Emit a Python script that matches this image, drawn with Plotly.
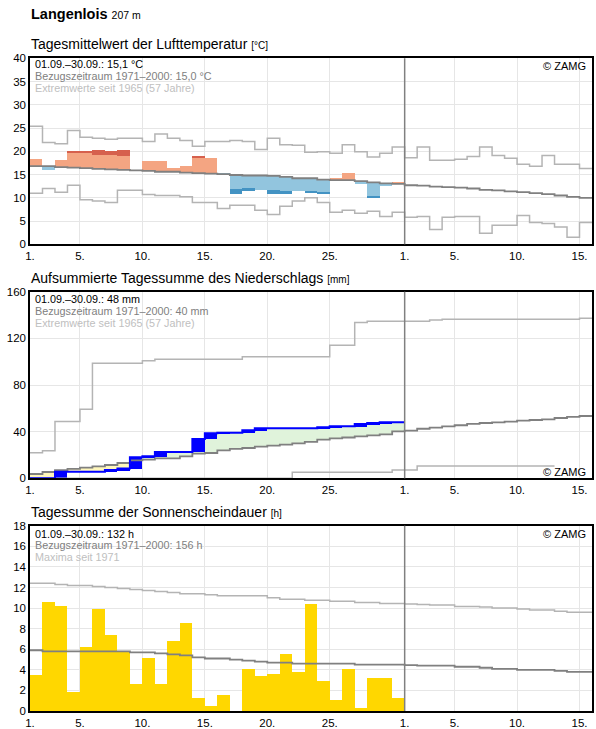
import plotly.graph_objects as go

W, H = 596, 729
FONT = "Liberation Sans, Arial, sans-serif"

# ---------------- data ----------------
# day index: 1..30 = September, 31..45 = 1..15 October
tick_vals = [1, 5, 10, 15, 20, 25, 31, 35, 40, 45]
tick_text = ["1.", "5.", "10.", "15.", "20.", "25.", "1.", "5.", "10.", "15."]

temp_normal = [16.8, 16.8, 16.6, 16.5, 16.4, 16.2, 16.1, 16.0, 15.9, 15.8, 15.6, 15.6, 15.4, 15.3, 15.2,
               15.1, 14.9, 14.8, 14.8, 14.7, 14.5, 14.2, 14.2, 13.9, 13.8, 13.8, 13.6, 13.3, 13.1, 13.0,
               12.7, 12.6, 12.4, 12.3, 12.2, 12.0, 11.7, 11.6, 11.4, 11.2, 11.0, 10.8, 10.5, 10.2, 10.0]
temp_max = [25.4, 21.9, 21.6, 24.5, 23.0, 22.8, 22.6, 22.8, 22.8, 22.1, 23.7, 22.8, 22.3, 21.1, 22.1,
            22.1, 22.3, 22.1, 20.4, 22.8, 21.4, 21.3, 19.8, 19.9, 19.6, 21.4, 19.9, 18.8, 19.6, 20.9,
            18.6, 20.9, 18.1, 18.1, 18.3, 18.9, 20.9, 19.1, 18.5, 17.2, 16.8, 19.1, 17.2, 17.2, 16.3]
temp_min = [11.0, 12.0, 11.2, 12.7, 9.6, 9.3, 9.0, 11.6, 11.6, 10.7, 10.5, 10.5, 10.2, 9.0, 9.0,
            7.7, 8.4, 8.4, 7.3, 6.4, 8.2, 9.3, 10.0, 9.0, 6.9, 7.3, 6.7, 7.1, 6.0, 6.9,
            5.8, 6.0, 3.2, 5.8, 6.0, 6.0, 2.4, 4.1, 4.1, 6.2, 4.7, 4.5, 3.7, 1.5, 4.7]
temp_actual = [18.3, 16.0, 18.1, 20.1, 20.1, 20.3, 20.1, 20.3, 15.9, 17.8, 17.8, 16.4, 16.8, 19.0, 18.6,
               14.8, 10.8, 11.5, 11.7, 10.7, 10.7, 11.5, 10.9, 10.9, 14.0, 15.3, 12.8, 10.0, 12.4, 13.2]
temp_upper = [19.9, 19.9, 19.7, 19.5, 19.5, 19.2, 19.2, 19.0, 19.0, 18.9, 18.7, 18.7, 18.6, 18.6, 18.6,
              18.2, 18.0, 17.9, 17.9, 17.8, 17.6, 17.3, 17.3, 17.0, 16.9, 16.9, 16.7, 16.4, 16.2, 16.1]
temp_lower = [13.8, 13.8, 13.6, 13.5, 13.4, 13.2, 13.1, 13.0, 12.9, 12.8, 12.6, 12.6, 12.4, 12.3, 12.2,
              12.1, 11.9, 11.9, 11.7, 11.7, 11.5, 11.4, 11.2, 11.1, 10.8, 10.8, 10.6, 10.2, 10.1, 10.0]

prec_normal = [3.7, 5.4, 6.9, 8.0, 9.1, 10.3, 11.4, 13.1, 15.4, 16.0, 17.1, 17.1, 18.8, 21.1, 21.7,
               24.0, 25.2, 26.0, 27.2, 28.0, 28.9, 30.0, 31.2, 33.1, 34.2, 35.0, 35.9, 36.8, 37.6, 40.3,
               40.9, 42.5, 43.4, 44.6, 45.5, 46.6, 47.4, 48.0, 48.6, 49.4, 50.0, 50.6, 51.7, 52.6, 53.4]
prec_max = [22.0, 23.7, 48.6, 48.6, 59.2, 98.6, 98.6, 98.6, 98.6, 100.9, 102.1, 102.1, 102.1, 102.1, 102.1,
            102.1, 102.1, 104.3, 104.3, 104.3, 104.3, 104.3, 104.3, 104.3, 114.1, 114.1, 133.5, 134.6, 134.6, 134.6,
            134.6, 134.6, 135.8, 136.3, 136.3, 136.3, 136.3, 136.3, 136.3, 136.3, 136.3, 136.3, 136.3, 136.3, 137.2]
# minimum curve is visible up to 12 October
prec_min = [0, 0, 0, 0, 0, 0, 0, 0, 0, 0, 0, 0, 0, 0, 0,
            0, 0, 0, 0, 0, 0, 5.1, 5.1, 5.1, 5.1, 5.1, 5.1, 5.1, 5.1, 7.1,
            7.1, 10.5, 10.5, 10.5, 10.5, 10.5, 10.5, 10.5, 10.5, 10.5, 10.5, 10.5]
prec_actual = [0, 0, 5.7, 5.7, 5.7, 5.7, 7.1, 8.5, 18.0, 18.9, 22.6, 22.6, 22.6, 33.7, 38.6,
               39.1, 39.1, 41.2, 42.9, 42.9, 42.9, 42.9, 42.9, 43.7, 44.6, 44.6, 46.6, 47.4, 48.0, 48.0]

sun_actual = [3.5, 10.6, 10.2, 1.9, 6.2, 9.9, 7.4, 5.8, 2.7, 5.2, 2.7, 6.8, 8.6, 1.3, 0.5,
              1.6, 0.0, 4.1, 3.4, 3.6, 5.6, 3.8, 10.4, 2.9, 1.1, 4.1, 0.3, 3.2, 3.2, 1.3]
sun_normal = [5.9, 5.8, 5.8, 5.8, 5.8, 5.8, 5.8, 5.8, 5.7, 5.7, 5.6, 5.5, 5.4, 5.2, 5.1,
              5.1, 5.0, 4.9, 4.8, 4.7, 4.7, 4.6, 4.6, 4.6, 4.6, 4.6, 4.5, 4.5, 4.5, 4.5,
              4.45, 4.4, 4.4, 4.4, 4.3, 4.3, 4.2, 4.1, 4.1, 4.0, 4.0, 4.0, 3.9, 3.8, 3.8]
sun_max = [12.4, 12.4, 12.3, 12.2, 12.2, 12.1, 12.0, 11.9, 11.8, 11.7, 11.6, 11.5, 11.4, 11.4, 11.3,
           11.2, 11.2, 11.2, 11.2, 11.0, 10.85, 10.85, 10.75, 10.75, 10.65, 10.65, 10.55, 10.55, 10.45, 10.45,
           10.4, 10.35, 10.3, 10.3, 10.15, 10.15, 10.1, 10.0, 10.0, 9.9, 9.8, 9.8, 9.7, 9.6, 9.6]

# ---------------- styles ----------------
C_NORMAL = "#808080"
C_EXT = "#b4b4b4"
C_GRID = "#e6e6e6"
C_WARM, C_WARM_D = "#f4a582", "#d6604d"
C_COLD, C_COLD_D = "#92c5de", "#4393c3"
C_BLUE = "#0000ff"
C_WET, C_DRY = "#e0f3db", "#fff7bc"
C_SUN = "#ffd700"

X0, X1 = 30, 592
PANELS = [(58.3, 244.3), (291.7, 478.3), (525.7, 711.0)]


def py(p):
    return 1 - p / H


def px(p):
    return p / W


fig = go.Figure()


def step_line(vals, axis, color, width):
    n = len(vals)
    xs = list(range(1, n + 2))
    ys = list(vals) + [vals[-1]]
    fig.add_trace(go.Scatter(x=xs, y=ys, mode="lines", line=dict(color=color, width=width, shape="hv"),
                             xaxis="x" + axis, yaxis="y" + axis, hoverinfo="skip"))


def bars(xs, heights, bases, color, axis):
    if not xs:
        return
    fig.add_trace(go.Bar(x=[d + 0.5 for d in xs], y=heights, base=bases, width=1,
                         marker=dict(color=color, line=dict(width=0)),
                         xaxis="x" + axis, yaxis="y" + axis, hoverinfo="skip"))


# ---- Temperature panel ----
warm = ([], [], [])
warm_d = ([], [], [])
cold = ([], [], [])
cold_d = ([], [], [])
for i, a in enumerate(temp_actual):
    d = i + 1
    n = temp_normal[i]
    if a >= n:
        top = min(a, temp_upper[i])
        warm[0].append(d); warm[1].append(top - n); warm[2].append(n)
        if a > temp_upper[i]:
            warm_d[0].append(d); warm_d[1].append(a - temp_upper[i]); warm_d[2].append(temp_upper[i])
    else:
        bot = max(a, temp_lower[i])
        cold[0].append(d); cold[1].append(bot - n); cold[2].append(n)
        if a < temp_lower[i]:
            cold_d[0].append(d); cold_d[1].append(a - temp_lower[i]); cold_d[2].append(temp_lower[i])
bars(*warm, C_WARM, "")
bars(*warm_d, C_WARM_D, "")
bars(*cold, C_COLD, "")
bars(*cold_d, C_COLD_D, "")
step_line(temp_max, "", C_EXT, 1.5)
step_line(temp_min, "", C_EXT, 1.5)
step_line(temp_normal, "", C_NORMAL, 1.8)

# ---- Precipitation panel ----
wet = ([], [], [])
dry = ([], [], [])
inc = ([], [], [])
prev = 0
for i, a in enumerate(prec_actual):
    d = i + 1
    n = prec_normal[i]
    tgt = wet if a >= n else dry
    tgt[0].append(d); tgt[1].append(abs(a - n)); tgt[2].append(min(a, n))
    if a > prev:
        inc[0].append(d); inc[1].append(a - prev); inc[2].append(prev)
    prev = a
bars(*wet, C_WET, "2")
bars(*dry, C_DRY, "2")
bars(*inc, C_BLUE, "2")
step_line(prec_max, "2", C_EXT, 1.5)
step_line(prec_min, "2", C_EXT, 1.5)
step_line(prec_normal, "2", C_NORMAL, 1.8)
step_line(prec_actual, "2", C_BLUE, 2)

# ---- Sunshine panel ----
bars(list(range(1, 31)), sun_actual, [0] * 30, C_SUN, "3")
step_line(sun_max, "3", C_EXT, 1.5)
step_line(sun_normal, "3", C_NORMAL, 1.8)

# ---------------- axes ----------------
yranges = [(0, 40, 5), (0, 160, 40), (0, 18, 2)]
layout = dict(width=W, height=H, margin=dict(l=0, r=0, t=0, b=0, autoexpand=False),
              paper_bgcolor="white", plot_bgcolor="white", showlegend=False,
              barmode="overlay", bargap=0, font=dict(family=FONT, color="black"))
shapes = []
for k, ((top, bot), (y0, y1, dt)) in enumerate(zip(PANELS, yranges)):
    s = "" if k == 0 else str(k + 1)
    layout["xaxis" + s] = dict(domain=[px(X0), px(X1)], range=[1, 46], tickvals=tick_vals, ticktext=tick_text,
                               showgrid=True, gridcolor=C_GRID, gridwidth=1, zeroline=False,
                               showline=True, mirror=True, linecolor="black", linewidth=1.5,
                               ticks="", tickfont=dict(size=11.5, family=FONT, color="black"),
                               anchor="y" + s, fixedrange=True, automargin=False)
    layout["yaxis" + s] = dict(domain=[py(bot), py(top)], range=[y0, y1], dtick=dt, tick0=0,
                               showgrid=True, gridcolor=C_GRID, gridwidth=1, zeroline=False,
                               showline=True, mirror=True, linecolor="black", linewidth=1.5,
                               ticks="", tickfont=dict(size=11.5, family=FONT, color="black"),
                               anchor="x" + s, fixedrange=True, automargin=False)
    shapes.append(dict(type="line", xref="x" + s, yref="y" + s + " domain", x0=31, x1=31, y0=0, y1=1,
                       line=dict(color=C_NORMAL, width=1.5), layer="above"))
layout["shapes"] = shapes

ann = []


def text(x, y, t, size, color="black", xanchor="left"):
    ann.append(dict(x=px(x), y=py(y), xref="paper", yref="paper", text=t, showarrow=False,
                    xanchor=xanchor, yanchor="middle", font=dict(size=size, color=color, family=FONT)))


text(29, 14, "<b>Langenlois</b> <span style='font-size:10.5px'>207 m</span>", 14.5)
text(29, 44, "Tagesmittelwert der Lufttemperatur <span style='font-size:10px'>[°C]</span>", 14)
text(29, 277.5, "Aufsummierte Tagessumme des Niederschlags <span style='font-size:10px'>[mm]</span>", 14)
text(29, 512, "Tagessumme der Sonnenscheindauer <span style='font-size:10px'>[h]</span>", 14)

info = [
    (64.5, ["01.09.–30.09.: 15,1 °C", "Bezugszeitraum 1971–2000: 15,0 °C", "Extremwerte seit 1965 (57 Jahre)"]),
    (299.5, ["01.09.–30.09.: 48 mm", "Bezugszeitraum 1971–2000: 40 mm", "Extremwerte seit 1965 (57 Jahre)"]),
    (533.5, ["01.09.–30.09.: 132 h", "Bezugszeitraum 1971–2000: 156 h", "Maxima seit 1971"]),
]
for y, lines in info:
    for j, (t, c) in enumerate(zip(lines, ["black", "#808080", "#c0c0c0"])):
        text(33, y + j * 11.8, t, 10.8, c)

text(588, 65.5, "© ZAMG", 11, xanchor="right")
text(588, 471.5, "© ZAMG", 11, xanchor="right")
text(588, 533.5, "© ZAMG", 11, xanchor="right")
layout["annotations"] = ann

fig.update_layout(**layout)
fig.write_html("out.html")
